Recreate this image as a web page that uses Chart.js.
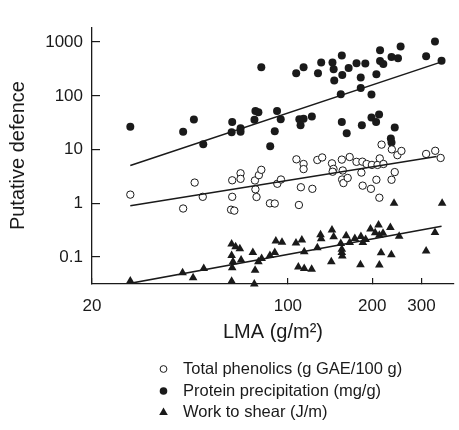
<!DOCTYPE html>
<html>
<head>
<meta charset="utf-8">
<script src="https://cdn.jsdelivr.net/npm/chart.js@4/dist/chart.umd.min.js"></script>
<style>
html,body{margin:0;padding:0;background:#fff;}
#wrap{width:459px;height:430px;position:relative;}
</style>
</head>
<body>
<div id="wrap"><canvas id="c" width="459" height="430"></canvas></div>
<script>
// ---- data ----
const xTickValues = [20, 100, 200, 300];
const yTickValues = [0.1, 1, 10, 100, 1000];
const legendLabels = ['Total phenolics (g GAE/100 g)', 'Protein precipitation (mg/g)', 'Work to shear (J/m)'];

const phenolicsLMA = [27.4, 42.3, 46.5, 49.7, 63.3, 67.8, 67.8, 63.3, 62.7, 64.4, 76.3, 78.8, 80.4, 76.6, 77.3, 86.3, 89.8, 91.7, 94.5, 107.3, 113.8, 113.8, 111.3, 122.3, 109.5, 127.4, 132.6, 143.7, 145.5, 144.5, 155.8, 166.2, 157.0, 156.2, 157.9, 163.5, 175.8, 184.5, 191.0, 199.5, 183.0, 184.9, 197.9, 209.0, 212.8, 219.4, 207.0, 212.1, 216.0, 235.0, 246.0, 254.3, 240.7, 234.4, 311.5, 335.7, 351.0];
const phenolicsVal = [1.45, 0.80, 2.43, 1.32, 2.68, 3.62, 2.85, 1.32, 0.76, 0.73, 2.66, 3.34, 4.20, 1.82, 1.31, 1.00, 0.99, 2.31, 2.77, 6.58, 5.39, 4.33, 1.99, 1.86, 0.93, 6.40, 7.13, 5.54, 4.36, 3.87, 6.50, 7.27, 4.08, 2.77, 2.38, 2.96, 5.91, 5.95, 5.39, 5.18, 3.73, 2.13, 1.86, 5.18, 6.85, 5.39, 2.74, 1.27, 12.35, 10.08, 7.87, 9.42, 3.81, 2.74, 8.29, 9.49, 6.98];

const proteinLMA = [27.4, 42.3, 46.2, 49.9, 63.3, 63.0, 67.8, 67.8, 76.6, 78.5, 76.0, 91.5, 94.3, 89.8, 86.5, 80.4, 107.1, 113.8, 109.9, 113.8, 111.0, 121.8, 128.1, 131.5, 144.3, 145.7, 146.4, 155.8, 156.4, 154.5, 155.8, 162.2, 164.8, 175.8, 182.0, 182.0, 183.7, 189.0, 198.8, 198.8, 211.6, 206.5, 207.0, 213.3, 213.3, 219.1, 234.4, 247.2, 252.6, 240.7, 233.1, 234.4, 311.5, 335.0, 353.6];
const proteinVal = [26.6, 21.5, 36.1, 12.6, 32.4, 20.9, 24.8, 21.5, 52.3, 49.3, 35.8, 52.3, 36.5, 21.8, 11.5, 341, 263, 341, 36.5, 37.3, 28.4, 41.2, 263, 416, 416, 311, 193, 561, 245, 107, 32.4, 20.1, 331, 404, 220, 140, 28.4, 400, 106, 39.6, 45.1, 32.4, 251, 707, 445, 389, 528, 501, 829, 25.8, 16.1, 13.5, 543, 1028, 450];

const shearLMA = [27.4, 42.1, 45.9, 50.1, 63.0, 65.1, 67.4, 63.0, 63.7, 63.3, 63.0, 68.1, 75.0, 76.4, 75.9, 78.5, 80.6, 86.3, 89.8, 90.6, 95.3, 106.9, 112.2, 114.4, 109.0, 114.4, 121.6, 127.4, 130.8, 131.5, 143.7, 145.7, 142.9, 154.5, 155.8, 155.8, 156.4, 161.5, 166.2, 173.4, 182.3, 185.2, 181.6, 189.5, 197.2, 210.7, 204.9, 212.1, 218.6, 215.1, 212.1, 232.2, 234.1, 249.6, 239.3, 311.5, 335.0, 355.3];
const shearVal = [0.036, 0.051, 0.041, 0.061, 0.175, 0.155, 0.143, 0.107, 0.082, 0.063, 0.0355, 0.088, 0.122, 0.057, 0.0315, 0.082, 0.094, 0.107, 0.122, 0.199, 0.189, 0.182, 0.208, 0.126, 0.065, 0.061, 0.059, 0.149, 0.260, 0.218, 0.318, 0.238, 0.082, 0.178, 0.139, 0.121, 0.104, 0.250, 0.187, 0.222, 0.240, 0.186, 0.072, 0.213, 0.331, 0.396, 0.282, 0.255, 0.276, 0.120, 0.071, 0.354, 0.110, 0.245, 1.0, 0.129, 0.285, 1.0];

// fitted regression lines (end points)
const fitPhenolicsX = [27.4, 339.6];
const fitPhenolicsY = [0.896, 7.41];
const fitProteinX = [27.4, 353.6];
const fitProteinY = [5.04, 428];
const fitShearX = [27.4, 353.6];
const fitShearY = [0.0324, 0.373];

// ---- drawing ----
const FONT = "'Liberation Sans', Arial, Helvetica, sans-serif";
const INK = '#1a1a1a';
function pts(xs, ys) { return xs.map((x, i) => ({ x: x, y: ys[i] })); }

const stackedLegend = {
  id: 'stackedLegend',
  afterDraw(chart) {
    const ctx = chart.ctx;
    const rows = [369, 391, 412];
    const mx = 163.5, tx = 183;
    ctx.save();
    ctx.font = '16.5px ' + FONT;
    ctx.textBaseline = 'middle';
    ctx.textAlign = 'left';
    legendLabels.forEach((label, i) => {
      const y = rows[i];
      ctx.lineWidth = 1;
      ctx.strokeStyle = INK;
      ctx.fillStyle = INK;
      ctx.beginPath();
      if (i === 0) {
        ctx.arc(mx, y, 3.4, 0, Math.PI * 2);
        ctx.fillStyle = '#fff';
        ctx.fill();
        ctx.stroke();
      } else if (i === 1) {
        ctx.arc(mx, y, 3.8, 0, Math.PI * 2);
        ctx.fill();
      } else {
        ctx.moveTo(mx, y - 4.5);
        ctx.lineTo(mx + 4.3, y + 3);
        ctx.lineTo(mx - 4.3, y + 3);
        ctx.closePath();
        ctx.fill();
      }
      ctx.fillStyle = INK;
      ctx.fillText(label, tx, y);
    });
    ctx.restore();
  }
};

const lineStyle = { type: 'line', borderColor: INK, borderWidth: 1.5, pointRadius: 0, pointHoverRadius: 0, fill: false, tension: 0 };

new Chart(document.getElementById('c'), {
  type: 'scatter',
  data: {
    datasets: [
      Object.assign({ label: 'fit protein', data: pts(fitProteinX, fitProteinY) }, lineStyle),
      Object.assign({ label: 'fit phenolics', data: pts(fitPhenolicsX, fitPhenolicsY) }, lineStyle),
      Object.assign({ label: 'fit shear', data: pts(fitShearX, fitShearY) }, lineStyle),
      { label: legendLabels[0], data: pts(phenolicsLMA, phenolicsVal), pointStyle: 'circle', pointRadius: 3.7, backgroundColor: '#fff', borderColor: INK, borderWidth: 1, clip: false },
      { label: legendLabels[1], data: pts(proteinLMA, proteinVal), pointStyle: 'circle', pointRadius: 4, backgroundColor: INK, borderColor: INK, borderWidth: 0, clip: false },
      { label: legendLabels[2], data: pts(shearLMA, shearVal), pointStyle: 'triangle', pointRadius: 5, backgroundColor: INK, borderColor: INK, borderWidth: 0, clip: false }
    ]
  },
  options: {
    responsive: false,
    animation: false,
    devicePixelRatio: 1,
    layout: { padding: { left: 0, right: 1, top: 8, bottom: 86 } },
    plugins: { legend: { display: false }, tooltip: { enabled: false } },
    scales: {
      x: {
        type: 'logarithmic', position: 'bottom', min: 20, max: 391.7,
        afterFit(s) { s.height = 60; },
        afterBuildTicks(s) { s.ticks = xTickValues.map(v => ({ value: v })); },
        grid: { display: true, drawOnChartArea: false, drawTicks: true, tickLength: -6, color: INK, lineWidth: 1.2 },
        border: { display: true, color: INK, width: 1.3 },
        ticks: { autoSkip: false, maxRotation: 0, padding: 18, color: INK, font: { family: FONT, size: 17 }, callback: v => String(v) },
        title: { display: true, text: 'LMA (g/m²)', color: INK, font: { family: FONT, size: 20 }, padding: { top: 0, bottom: 0 } }
      },
      y: {
        type: 'logarithmic', position: 'left', min: 0.0315, max: 1892,
        afterFit(s) { s.width = 92; },
        afterBuildTicks(s) { s.ticks = yTickValues.map(v => ({ value: v })); },
        grid: { display: true, drawOnChartArea: false, drawTicks: true, tickLength: -8, color: INK, lineWidth: 1.2 },
        border: { display: true, color: INK, width: 1.3 },
        ticks: { autoSkip: false, padding: 17, color: INK, font: { family: FONT, size: 17 }, callback: v => String(v) },
        title: { display: true, text: 'Putative defence', color: INK, font: { family: FONT, size: 20 }, padding: { top: 6, bottom: 0 } }
      }
    }
  },
  plugins: [stackedLegend]
});
</script>
</body>
</html>
